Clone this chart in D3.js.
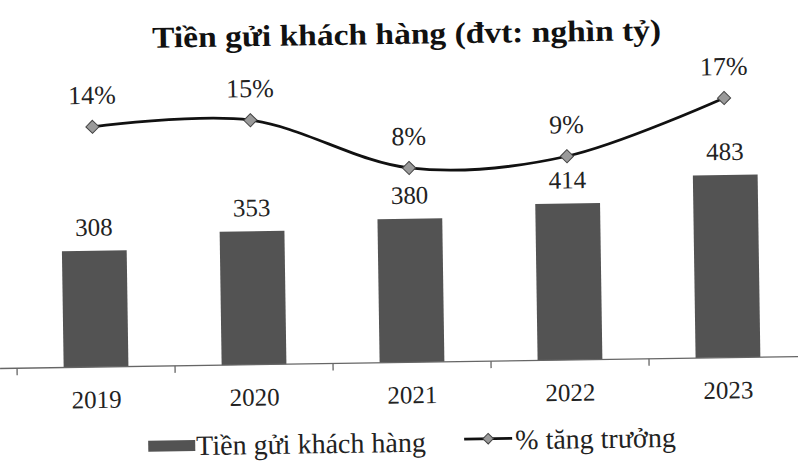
<!DOCTYPE html>
<html>
<head>
<meta charset="utf-8">
<script src="https://cdn.jsdelivr.net/npm/d3@7"></script>
<style>
  html, body { margin: 0; padding: 0; background: #ffffff; }
  svg { display: block; }
</style>
</head>
<body>
<svg id="chart" width="798" height="461"></svg>
<script>
// ---- data ----
const years = ["2019", "2020", "2021", "2022", "2023"];
const deposits = [308, 353, 380, 414, 483];           // nghìn tỷ
const growth = [0.140, 0.146, 0.076, 0.089, 0.167];    // % tăng trưởng
const titleText = "Tiền gửi khách hàng (đvt: nghìn tỷ)";
const legendBar = "Tiền gửi khách hàng";
const legendLine = "% tăng trưởng";

const W = 798, H = 461;
const svg = d3.select("#chart");
svg.append("rect").attr("width", W).attr("height", H).attr("fill", "#ffffff");

// whole figure slightly tilted like the scanned original
const g = svg.append("g").attr("transform", "rotate(-0.86, 400, 362)");

const baseY = 362.5;
const x = d3.scaleBand().domain(years).range([17, 807]).paddingInner(0.59).paddingOuter(0.295);
const y = d3.scaleLinear().domain([0, 500]).range([baseY, baseY - 500 * 0.378]);
const yp = d3.scaleLinear().domain([0, 0.20]).range([222.5, 222.5 - 20 * 7.16]);

const serif = "'Liberation Serif', 'DejaVu Serif', serif";

// title
g.append("text")
  .attr("x", 411.5).attr("y", 44)
  .attr("text-anchor", "middle")
  .attr("font-family", serif).attr("font-weight", "bold").attr("font-size", 30)
  .attr("textLength", 509).attr("lengthAdjust", "spacingAndGlyphs")
  .attr("fill", "#111")
  .text(titleText);

// bars
g.selectAll("rect.bar").data(years).join("rect")
  .attr("class", "bar")
  .attr("x", d => x(d))
  .attr("width", x.bandwidth())
  .attr("y", (d, i) => y(deposits[i]))
  .attr("height", (d, i) => baseY - y(deposits[i]))
  .attr("fill", "#535353");

// bar labels
g.selectAll("text.val").data(years).join("text")
  .attr("class", "val")
  .attr("x", d => x(d) + x.bandwidth() / 2)
  .attr("y", (d, i) => y(deposits[i]) - 15)
  .attr("text-anchor", "middle")
  .attr("font-family", serif).attr("font-size", 25)
  .attr("fill", "#222")
  .text((d, i) => deposits[i]);

// x axis
const xAxis = d3.axisBottom(x).tickSize(0).tickFormat(d => d);
const ax = g.append("g").attr("transform", `translate(0,${baseY})`).call(xAxis);
ax.select(".domain").attr("stroke", "#666").attr("stroke-width", 1.3).attr("d", `M0,0H${W + 10}`);
ax.selectAll(".tick text")
  .attr("font-family", serif).attr("font-size", 25).attr("fill", "#222")
  .attr("dy", 0).attr("y", 41);
// category boundary ticks
const bounds = d3.range(years.length + 1).map(i => x.range()[0] + i * x.step());
ax.selectAll("line.bnd").data(bounds).join("line")
  .attr("class", "bnd")
  .attr("x1", d => d).attr("x2", d => d)
  .attr("y1", 0).attr("y2", 7)
  .attr("stroke", "#666").attr("stroke-width", 1.3);

// growth line
const cx = (d, i) => x(years[i]) + x.bandwidth() / 2;
const line = d3.line().x(cx).y(d => yp(d)).curve(d3.curveCatmullRom.alpha(0));
g.append("path").datum(growth)
  .attr("d", line)
  .attr("fill", "none").attr("stroke", "#111").attr("stroke-width", 2.8);

const diamond = d3.symbol().type(d3.symbolDiamond2).size(110);
g.selectAll("path.mk").data(growth).join("path")
  .attr("class", "mk")
  .attr("d", diamond)
  .attr("transform", (d, i) => `translate(${cx(d, i)},${yp(d)})`)
  .attr("fill", "#9a9a9a").attr("stroke", "#444").attr("stroke-width", 1);

const pct = d3.format(".0%");
g.selectAll("text.pct").data(growth).join("text")
  .attr("class", "pct")
  .attr("x", (d, i) => cx(d, i))
  .attr("y", d => yp(d) - 23)
  .attr("text-anchor", "middle")
  .attr("font-family", serif).attr("font-size", 26)
  .attr("fill", "#222")
  .text(d => pct(d));

// legend
const lg = g.append("g").attr("transform", "translate(0,442)");
lg.append("rect").attr("x", 147).attr("y", -5).attr("width", 47).attr("height", 11).attr("fill", "#535353");
lg.append("text").attr("x", 195).attr("y", 10)
  .attr("font-family", serif).attr("font-size", 28).attr("fill", "#222")
  .text(legendBar);
lg.append("line").attr("x1", 463).attr("x2", 511).attr("y1", -2).attr("y2", -2)
  .attr("stroke", "#111").attr("stroke-width", 2.8);
lg.append("path").attr("d", d3.symbol().type(d3.symbolDiamond2).size(70))
  .attr("transform", "translate(487,-2)")
  .attr("fill", "#9a9a9a").attr("stroke", "#444").attr("stroke-width", 1);
lg.append("text").attr("x", 514).attr("y", 9)
  .attr("font-family", serif).attr("font-size", 28).attr("fill", "#222")
  .text(legendLine);
</script>
</body>
</html>
